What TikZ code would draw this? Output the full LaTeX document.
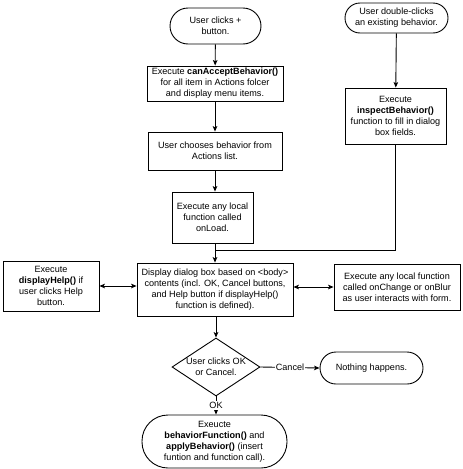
\documentclass[tikz,border=0pt]{standalone}
\usepackage{fontspec}
\setmainfont{Liberation Sans}
\usetikzlibrary{arrows.meta,shapes.geometric}
\begin{document}
\begin{tikzpicture}[x=1pt,y=-1pt,
  txt/.style={font=\fontsize{9.1}{11}\selectfont, align=center},
  base/.style={txt, draw, line width=0.9pt, inner sep=0pt},
  box/.style={base, rectangle},
  term/.style={base, rectangle, rounded corners=#1},
  dia/.style={draw, line width=0.9pt, diamond, inner sep=0pt},
  arr/.style={line width=0.9pt, -{Stealth[length=5.5pt,width=4.6pt,inset=1.3pt]}},
  arr2/.style={line width=0.9pt, {Stealth[length=5.5pt,width=4.6pt,inset=1.3pt]}-{Stealth[length=5.5pt,width=4.6pt,inset=1.3pt]}},
  ln/.style={line width=0.9pt},
  lbl/.style={txt, fill=white, inner sep=1pt}]
\useasboundingbox (0,0) rectangle (463,469);

\node[term=18pt, minimum width=91pt, minimum height=36pt] (start) at (215.5,26) {User clicks +\\button.};
\node[box, minimum width=136pt, minimum height=35pt] (can) at (215,83.5) {Execute \textbf{canAcceptBehavior()}\\for all item in Actions folcer\\and display menu items.};
\node[box, minimum width=134pt, minimum height=38pt] (choose) at (215,151) {User chooses behavior from\\Actions list.};
\node[box, minimum width=81pt, minimum height=51pt] (onload) at (212.5,217.5) {Execute any local\\function called\\onLoad.};
\node[term=15pt, minimum width=103pt, minimum height=30pt] (dbl) at (396.5,18) {User double-clicks\\an existing behavior.};
\node[box, minimum width=101pt, minimum height=56pt] (insp) at (395.5,116) {Execute\\\textbf{inspectBehavior()}\\function to fill in dialog\\box fields.};
\coordinate (j) at (215,250);
\node[box, minimum width=156pt, minimum height=53pt] (dialog) at (215,289.5) {Display dialog box based on <body>\\contents (incl. OK, Cancel buttons,\\and Help button if displayHelp()\\function is defined).};
\node[box, minimum width=96pt, minimum height=50pt] (help) at (51,286) {Execute\\\textbf{displayHelp()} if\\user clicks Help\\button.};
\node[box, minimum width=126pt, minimum height=46pt] (form) at (397,287) {Execute any local function\\called onChange or onBlur\\as user interacts with form.};
\node[dia, minimum width=88pt, minimum height=58pt, label={[txt]center:User clicks OK\\or Cancel.}] (dec) at (216,367) {};
\node[term=16pt, minimum width=103pt, minimum height=32pt] (nothing) at (371.5,368) {Nothing happens.};
\node[term=26pt, minimum width=145pt, minimum height=53pt] (final) at (214.5,441.5) {Exeucte\\\textbf{behaviorFunction()} and\\\textbf{applyBehavior()} (insert\\funtion and function call).};

\draw[arr] (start) -- (can);
\draw[arr] (can) -- (choose);
\draw[arr] (choose.south) -- (choose.south |- onload.north);
\draw[arr] (dbl) -- (insp);
\draw[arr] (onload.south -| dialog.north) -- (dialog.north);
\draw[ln] (insp.south) |- (j);
\draw[arr2] (help.east) -- (help.east -| dialog.west);
\draw[arr2] (dialog.east |- form.west) -- (form.west);
\draw[arr] (dialog.south -| dec.north) -- (dec.north);
\draw[arr] (dec.east) -- node[lbl] {Cancel} (nothing.west);
\draw[arr] (dec.south) -- node[lbl] {OK} (final.north -| dec.south);
\end{tikzpicture}
\end{document}
